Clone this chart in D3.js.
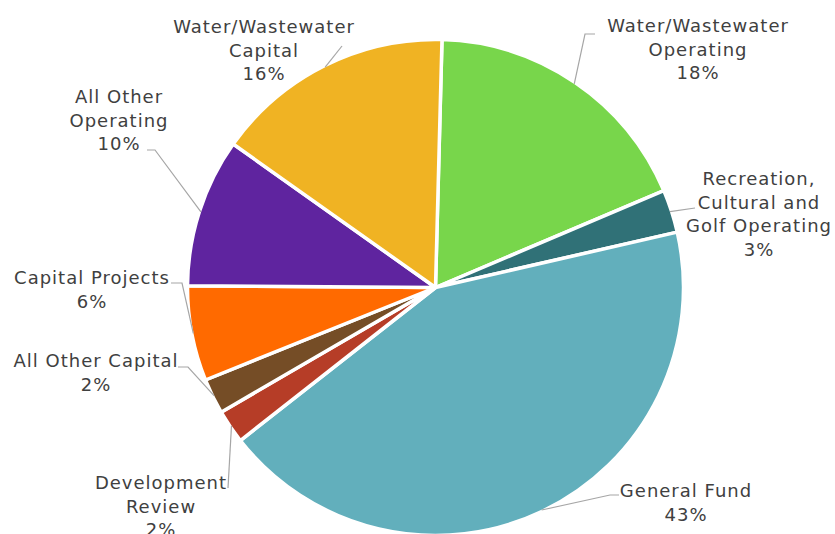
<!DOCTYPE html>
<html>
<head>
<meta charset="utf-8">
<script src="https://cdn.jsdelivr.net/npm/d3@7"></script>
<style>
  body { margin: 0; background: #fff; }
  svg { display: block; }
  .lbl { font-family: "DejaVu Sans", Verdana, sans-serif; font-size: 18px; letter-spacing: 1px; fill: #404040; }
</style>
</head>
<body>
<svg width="835" height="534"></svg>
<script>
// budget share by fund, clockwise from the top
var categories = ["Water/Wastewater Operating", "Recreation, Cultural and Golf Operating", "General Fund",
                  "Development Review", "All Other Capital", "Capital Projects",
                  "All Other Operating", "Water/Wastewater Capital"];
var values = [18.2, 2.8, 43.0, 2.2, 2.3, 6.2, 9.7, 15.6];
var labelLines = [["Water/Wastewater", "Operating"], ["Recreation,", "Cultural and", "Golf Operating"],
                  ["General Fund"], ["Development", "Review"], ["All Other Capital"],
                  ["Capital Projects"], ["All Other", "Operating"], ["Water/Wastewater", "Capital"]];
var colors = ["#78d64b", "#307177", "#62afbc", "#b63d27", "#754d26", "#ff6a00", "#5f249f", "#f0b323"];

// where the labels sit (text centre, first baseline) and the bends of their leader lines
var labelPos = [[698, 32], [759, 185], [686, 497], [161, 489], [96, 367], [92, 284], [119, 103], [264, 33]];
var leaderBends = [[[585, 34], [595, 34]], [[695, 208]], [[610, 495], [619, 495]], [[228, 488]],
                   [[188, 367], [178, 367]], [[182, 283], [171, 283]], [[155, 150], [147, 150]], [[342, 46]]];

var svg = d3.select("svg"),
    cx = 435.5,
    cy = 287.5,
    radius = 248,
    lineH = 23.5;

var total = d3.sum(values);
var start = 1.5 * Math.PI / 180;

var pie = d3.pie().sort(null).startAngle(start).endAngle(start + 2 * Math.PI);
var arcs = pie(values);

var arc = d3.arc().innerRadius(0).outerRadius(radius);
var rim = d3.arc().innerRadius(radius - 1.5).outerRadius(radius - 1.5);

var g = svg.append("g").attr("transform", "translate(" + cx + "," + cy + ")");

g.selectAll(".slice")
 .data(arcs)
 .enter().append("path")
 .attr("class", "slice")
 .attr("d", arc)
 .attr("fill", function(d, i) { return colors[i]; })
 .attr("stroke", "#fff")
 .attr("stroke-width", 3.5)
 .attr("stroke-linejoin", "round");

// leader lines
var line = d3.line();
svg.selectAll(".leader")
   .data(arcs)
   .enter().append("path")
   .attr("class", "leader")
   .attr("d", function(d, i) {
       var c = rim.centroid(d);
       var pts = [[cx + c[0], cy + c[1]]].concat(leaderBends[i]);
       return line(pts);
   })
   .attr("fill", "none")
   .attr("stroke", "#a6a6a6")
   .attr("stroke-width", 1.2);

// labels
var lbl = svg.selectAll(".lbl")
   .data(arcs)
   .enter().append("text")
   .attr("class", "lbl")
   .attr("text-anchor", "middle")
   .attr("x", function(d, i) { return labelPos[i][0]; })
   .attr("y", function(d, i) { return labelPos[i][1]; });

lbl.each(function(d, i) {
    var t = d3.select(this);
    var lines = labelLines[i].concat([Math.round(d.value / total * 100) + "%"]);
    lines.forEach(function(s, k) {
        t.append("tspan")
         .attr("x", labelPos[i][0])
         .attr("y", labelPos[i][1] + k * lineH)
         .text(s);
    });
});
</script>
</body>
</html>
